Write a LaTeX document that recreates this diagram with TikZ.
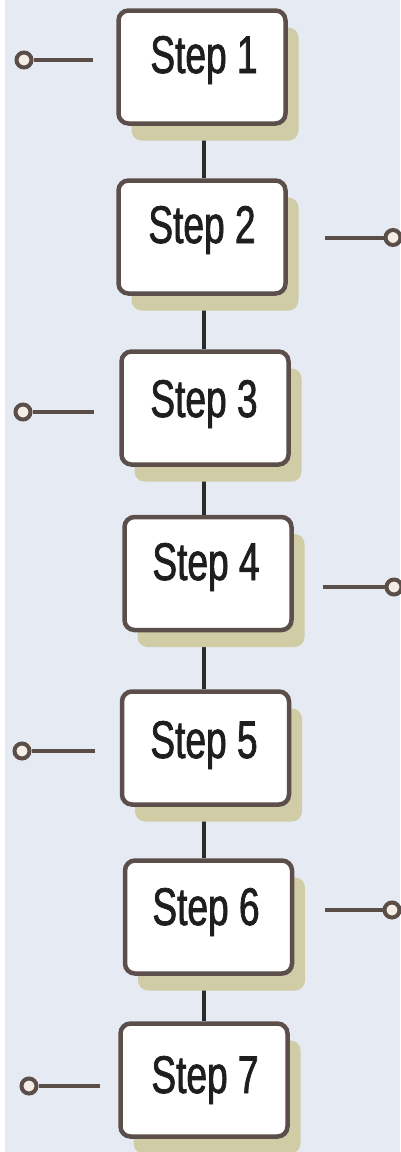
\documentclass[tikz,border=0pt]{standalone}
\usepackage{fontspec}
\setmainfont{Liberation Sans}[FakeStretch=0.70,FakeBold=1.4]
\usetikzlibrary{shadows}
\pgfdeclarelayer{background}
\pgfsetlayers{background,main}
\definecolor{bgcol}{HTML}{E6EBF3}
\definecolor{boxcol}{HTML}{5C4F4B}
\definecolor{shadcol}{HTML}{CFCCA6}
\definecolor{linkcol}{HTML}{2A2A2A}
\definecolor{armcol}{HTML}{5B4D48}
\definecolor{dotcol}{HTML}{F3EDE6}
\definecolor{txtcol}{HTML}{1E1E1E}
\begin{document}
\begin{tikzpicture}[x=1pt,y=-1pt,
  stepbox/.style={draw=boxcol, line width=4.5pt, fill=white, rounded corners=10pt,
    minimum width=167pt, minimum height=113pt, inner sep=0pt,
    drop shadow={shadow xshift=13pt, shadow yshift=-17pt, fill=shadcol, opacity=1}},
  steptext/.style={anchor=base, font=\fontsize{53}{60}\selectfont, text=txtcol, inner sep=0pt},
  link/.style={draw=linkcol, line width=4.5pt},
  arm/.style={draw=armcol, line width=4pt},
  dot/.style={circle, draw=armcol, line width=4pt, fill=dotcol, minimum size=15pt, inner sep=0pt}]
\useasboundingbox (0,0) rectangle (400,1152);

% boxes
\node[stepbox] (s1) at (202,67) {};
\node[stepbox] (s2) at (202,237) {};
\node[stepbox] (s3) at (205,408) {};
\node[stepbox] (s4) at (208,573.5) {};
\node[stepbox] (s5) at (205.5,748) {};
\node[stepbox] (s6) at (208.5,917) {};
\node[stepbox] (s7) at (204,1080) {};

% texts
\node[steptext] (t1) at (204,73) {Step 1};
\node[steptext] (t2) at (202,243) {Step 2};
\node[steptext] (t3) at (204,417) {Step 3};
\node[steptext] (t4) at (206,580) {Step 4};
\node[steptext] (t5) at (204,758) {Step 5};
\node[steptext] (t6) at (206,925) {Step 6};
\node[steptext] (t7) at (205,1093) {Step 7};

% side dots
\node[dot] (c1) at (24,60) {};
\node[dot] (c2) at (393,237.5) {};
\node[dot] (c3) at (23,412) {};
\node[dot] (c4) at (394,587) {};
\node[dot] (c5) at (22,751) {};
\node[dot] (c6) at (392,910) {};
\node[dot] (c7) at (29,1086) {};

\coordinate (e1) at (93,60);
\coordinate (e2) at (325,237.5);
\coordinate (e3) at (94,412);
\coordinate (e4) at (323,587);
\coordinate (e5) at (95,751);
\coordinate (e6) at (325,910);
\coordinate (e7) at (100,1086);

\foreach \i in {1,...,7} {\draw[arm] (c\i) -- (e\i);}

\coordinate (spine) at (204,0);

\begin{pgfonlayer}{background}
  \fill[white] (0,0) rectangle (5,1152);
  \fill[bgcol] (5,0) rectangle (400,1152);
  \draw[link] (spine |- s1.south) -- (spine |- s2.north);
  \draw[link] (spine |- s2.south) -- (spine |- s3.north);
  \draw[link] (spine |- s3.south) -- (spine |- s4.north);
  \draw[link] (spine |- s4.south) -- (spine |- s5.north);
  \draw[link] (spine |- s5.south) -- (spine |- s6.north);
  \draw[link] (spine |- s6.south) -- (spine |- s7.north);
\end{pgfonlayer}
\end{tikzpicture}
\end{document}
